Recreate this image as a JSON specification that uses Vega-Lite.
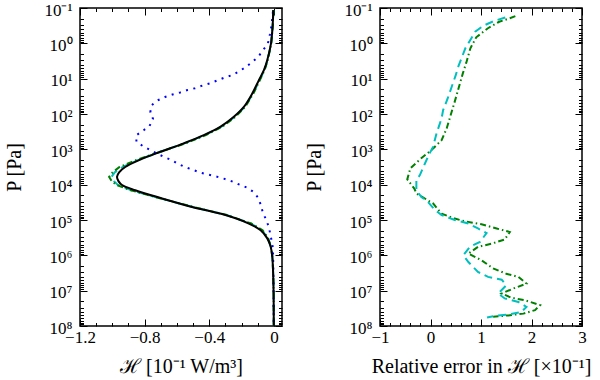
{
  "$schema": "https://vega.github.io/schema/vega-lite/v6.json",
  "padding": {"left": 4, "top": 0, "right": 0, "bottom": 0},
  "spacing": 98,
  "bounds": "flush",
  "config": {
    "view": {"stroke": "black", "strokeWidth": 1.5},
    "axis": {"grid": false, "domain": false, "tickColor": "black", "tickWidth": 1, "labelFlush": false,
      "labelFont": "Liberation Serif", "labelFontSize": 17, "labelColor": "black",
      "titleFont": "Liberation Serif", "titleFontSize": 20, "titleFontWeight": "normal", "titleColor": "black"}
  },
  "datasets": {
    "black": [
      {"P":0.115,"H":-0.004},{"P":0.3162,"H":-0.008},{"P":1,"H":-0.018},{"P":2.951,"H":-0.041},{"P":5.754,"H":-0.062},{"P":10.96,"H":-0.093},{"P":26.3,"H":-0.134},{"P":63.1,"H":-0.186},{"P":120.2,"H":-0.248},{"P":229.1,"H":-0.33},{"P":398.1,"H":-0.434},{"P":676.1,"H":-0.558},{"P":1175,"H":-0.703},{"P":1950,"H":-0.827},{"P":3162,"H":-0.92},{"P":4467,"H":-0.958},{"P":6026,"H":-0.971},{"P":7943,"H":-0.962},{"P":10230,"H":-0.94},{"P":14450,"H":-0.858},{"P":24550,"H":-0.692},{"P":42660,"H":-0.506},{"P":72440,"H":-0.3},{"P":125900,"H":-0.155},{"P":195000,"H":-0.082},{"P":331100,"H":-0.041},{"P":575400,"H":-0.02},{"P":1122000,"H":-0.01},{"P":3162000,"H":-0.005},{"P":11750000,"H":-0.002},{"P":99000000,"H":-0.001}
    ],
    "cyanL": [
      {"P":0.115,"H":-0.0034},{"P":0.3162,"H":-0.0072},{"P":1,"H":-0.0167},{"P":2.951,"H":-0.0385},{"P":5.754,"H":-0.0587},{"P":10.96,"H":-0.0886},{"P":26.3,"H":-0.129},{"P":63.1,"H":-0.181},{"P":120.2,"H":-0.242},{"P":229.1,"H":-0.325},{"P":398.1,"H":-0.429},{"P":676.1,"H":-0.554},{"P":1175,"H":-0.703},{"P":1950,"H":-0.834},{"P":3162,"H":-0.935},{"P":4467,"H":-0.985},{"P":6026,"H":-1.005},{"P":7943,"H":-0.99},{"P":10230,"H":-0.966},{"P":14450,"H":-0.882},{"P":24550,"H":-0.702},{"P":42660,"H":-0.504},{"P":72440,"H":-0.293},{"P":125900,"H":-0.143},{"P":195000,"H":-0.074},{"P":331100,"H":-0.037},{"P":575400,"H":-0.0184},{"P":1122000,"H":-0.0093},{"P":3162000,"H":-0.0045},{"P":11750000,"H":-0.0017},{"P":99000000,"H":-0.0009}
    ],
    "greenL": [
      {"P":0.115,"H":-0.0033},{"P":0.3162,"H":-0.007},{"P":1,"H":-0.0165},{"P":2.951,"H":-0.038},{"P":5.754,"H":-0.0578},{"P":10.96,"H":-0.0872},{"P":26.3,"H":-0.127},{"P":63.1,"H":-0.178},{"P":120.2,"H":-0.238},{"P":229.1,"H":-0.319},{"P":398.1,"H":-0.422},{"P":676.1,"H":-0.547},{"P":1175,"H":-0.704},{"P":1950,"H":-0.844},{"P":3162,"H":-0.955},{"P":4467,"H":-0.998},{"P":6026,"H":-1.02},{"P":7943,"H":-1.004},{"P":10230,"H":-0.973},{"P":14450,"H":-0.885},{"P":24550,"H":-0.7},{"P":42660,"H":-0.5},{"P":72440,"H":-0.291},{"P":125900,"H":-0.141},{"P":195000,"H":-0.07},{"P":331100,"H":-0.035},{"P":575400,"H":-0.0181},{"P":1122000,"H":-0.0091},{"P":3162000,"H":-0.0043},{"P":11750000,"H":-0.0017},{"P":99000000,"H":-0.0009}
    ],
    "blue": [
      {"P":0.1259,"H":-0.006},{"P":0.3162,"H":-0.015},{"P":0.5623,"H":-0.025},{"P":1,"H":-0.037},{"P":1.549,"H":-0.066},{"P":2.399,"H":-0.097},{"P":3.311,"H":-0.132},{"P":4.571,"H":-0.17},{"P":6.026,"H":-0.211},{"P":7.943,"H":-0.258},{"P":9.12,"H":-0.3},{"P":10.96,"H":-0.345},{"P":13.49,"H":-0.393},{"P":15.49,"H":-0.44},{"P":18.62,"H":-0.488},{"P":20.89,"H":-0.535},{"P":24.55,"H":-0.58},{"P":28.18,"H":-0.628},{"P":33.11,"H":-0.674},{"P":41.69,"H":-0.723},{"P":56.23,"H":-0.756},{"P":89.13,"H":-0.765},{"P":138,"H":-0.748},{"P":218.8,"H":-0.77},{"P":288.4,"H":-0.806},{"P":398.1,"H":-0.851},{"P":616.6,"H":-0.851},{"P":812.8,"H":-0.81},{"P":1047,"H":-0.766},{"P":1318,"H":-0.723},{"P":1622,"H":-0.682},{"P":2042,"H":-0.63},{"P":2630,"H":-0.589},{"P":3236,"H":-0.545},{"P":3890,"H":-0.496},{"P":4677,"H":-0.448},{"P":5248,"H":-0.403},{"P":5888,"H":-0.357},{"P":6761,"H":-0.31},{"P":7943,"H":-0.264},{"P":9772,"H":-0.217},{"P":12020,"H":-0.169},{"P":15850,"H":-0.128},{"P":22910,"H":-0.099},{"P":36310,"H":-0.082},{"P":63100,"H":-0.068},{"P":100000,"H":-0.047},{"P":162200,"H":-0.031},{"P":288400,"H":-0.02},{"P":467700,"H":-0.01},{"P":707900,"H":-0.006},{"P":3162000,"H":-0.003},{"P":31620000,"H":-0.002},{"P":99000000,"H":-0.001}
    ],
    "cyanR": [
      {"P":0.1862,"E":1.48},{"P":0.2291,"E":1.27},{"P":0.3162,"E":1.05},{"P":0.4677,"E":0.885},{"P":1,"E":0.75},{"P":1.38,"E":0.69},{"P":4.571,"E":0.55},{"P":7.943,"E":0.5},{"P":16.98,"E":0.42},{"P":36.31,"E":0.34},{"P":77.62,"E":0.25},{"P":131.8,"E":0.22},{"P":354.8,"E":0.12},{"P":851.1,"E":0.05},{"P":1622,"E":-0.05},{"P":2512,"E":-0.11},{"P":5370,"E":-0.21},{"P":7413,"E":-0.28},{"P":14450,"E":-0.28},{"P":22390,"E":-0.18},{"P":30900,"E":-0.05},{"P":52480,"E":0.09},{"P":72440,"E":0.22},{"P":100000,"E":0.48},{"P":125900,"E":0.75},{"P":173800,"E":0.94},{"P":234400,"E":1.11},{"P":416900,"E":0.98},{"P":575400,"E":0.78},{"P":1000000,"E":0.65},{"P":1549000,"E":0.75},{"P":2951000,"E":0.94},{"P":4074000,"E":1.14},{"P":4898000,"E":1.41},{"P":7079000,"E":1.5},{"P":12020000,"E":1.34},{"P":16600000,"E":1.47},{"P":20890000,"E":1.74},{"P":28840000,"E":1.9},{"P":39810000,"E":1.8},{"P":46770000,"E":1.57},{"P":50120000,"E":1.34},{"P":57540000,"E":1.12}
    ],
    "greenR": [
      {"P":0.1698,"E":1.68},{"P":0.195,"E":1.57},{"P":0.2455,"E":1.36},{"P":0.3802,"E":1.13},{"P":0.6761,"E":0.905},{"P":1.38,"E":0.79},{"P":3.467,"E":0.71},{"P":7.079,"E":0.64},{"P":19.95,"E":0.55},{"P":44.67,"E":0.48},{"P":107.2,"E":0.4},{"P":257,"E":0.32},{"P":549.5,"E":0.22},{"P":1047,"E":0.02},{"P":1820,"E":-0.19},{"P":3467,"E":-0.4},{"P":7079,"E":-0.46},{"P":12880,"E":-0.32},{"P":17780,"E":-0.28},{"P":33880,"E":0.05},{"P":66070,"E":0.22},{"P":91200,"E":0.48},{"P":112200,"E":0.72},{"P":131800,"E":1.01},{"P":173800,"E":1.31},{"P":218800,"E":1.57},{"P":354800,"E":1.47},{"P":467700,"E":1.21},{"P":575400,"E":0.94},{"P":891300,"E":0.75},{"P":1380000,"E":1.01},{"P":2344000,"E":1.24},{"P":3311000,"E":1.5},{"P":4074000,"E":1.74},{"P":6310000,"E":1.9},{"P":8710000,"E":1.64},{"P":12020000,"E":1.41},{"P":15850000,"E":1.6},{"P":18620000,"E":1.87},{"P":25700000,"E":2.17},{"P":35480000,"E":2.07},{"P":44670000,"E":1.84},{"P":50120000,"E":1.54},{"P":54950000,"E":1.24}
    ]
  },
  "hconcat": [
    {
      "width": 202, "height": 318,
      "resolve": {"axis": {"x": "independent", "y": "independent"}},
      "layer": [
        {
          "data": {"name": "cyanL"},
          "mark": {"type": "line", "color": "#00bfbf", "strokeWidth": 2, "strokeDash": [8, 5]},
          "encoding": {
            "x": {"field": "H", "type": "quantitative", "scale": {"domain": [-1.2, 0.05], "nice": false, "zero": false},
              "axis": {"orient": "bottom", "values": [-1.1,-1.0,-0.9,-0.7,-0.6,-0.5,-0.3,-0.2,-0.1], "tickSize": -3.5, "labels": false, "title": null}},
            "y": {"field": "P", "type": "quantitative", "scale": {"type": "log", "domain": [0.1, 100000000], "reverse": true, "nice": false},
              "axis": {"orient": "left", "values": [0.2,0.3,0.4,0.5,0.6,0.7,0.8,0.9,2,3,4,5,6,7,8,9,20,30,40,50,60,70,80,90,200,300,400,500,600,700,800,900,2000,3000,4000,5000,6000,7000,8000,9000,20000,30000,40000,50000,60000,70000,80000,90000,200000,300000,400000,500000,600000,700000,800000,900000,2000000,3000000,4000000,5000000,6000000,7000000,8000000,9000000,20000000,30000000,40000000,50000000,60000000,70000000,80000000,90000000], "tickSize": -3.5, "labels": false, "title": null}},
            "order": {"field": "P", "type": "quantitative"}
          }
        },
        {
          "data": {"name": "greenL"},
          "mark": {"type": "line", "color": "#008000", "strokeWidth": 2, "strokeDash": [6, 3, 1.5, 3]},
          "encoding": {
            "x": {"field": "H", "type": "quantitative", "scale": {"domain": [-1.2, 0.05], "nice": false, "zero": false},
              "axis": {"orient": "top", "values": [-1.2,-0.8,-0.4,0], "tickSize": -7, "labels": false, "title": null}},
            "y": {"field": "P", "type": "quantitative", "scale": {"type": "log", "domain": [0.1, 100000000], "reverse": true, "nice": false},
              "axis": {"orient": "right", "values": [0.1,1,10,100,1000,10000,100000,1000000,10000000,100000000], "tickSize": -7, "labels": false, "title": null}},
            "order": {"field": "P", "type": "quantitative"}
          }
        },
        {
          "data": {"name": "blue"},
          "mark": {"type": "line", "color": "#0000ff", "strokeWidth": 2, "strokeDash": [2, 5.5]},
          "encoding": {
            "x": {"field": "H", "type": "quantitative", "scale": {"domain": [-1.2, 0.05], "nice": false, "zero": false},
              "axis": {"orient": "top", "values": [-1.1,-1.0,-0.9,-0.7,-0.6,-0.5,-0.3,-0.2,-0.1], "tickSize": -3.5, "labels": false, "title": null}},
            "y": {"field": "P", "type": "quantitative", "scale": {"type": "log", "domain": [0.1, 100000000], "reverse": true, "nice": false},
              "axis": {"orient": "right", "values": [0.2,0.3,0.4,0.5,0.6,0.7,0.8,0.9,2,3,4,5,6,7,8,9,20,30,40,50,60,70,80,90,200,300,400,500,600,700,800,900,2000,3000,4000,5000,6000,7000,8000,9000,20000,30000,40000,50000,60000,70000,80000,90000,200000,300000,400000,500000,600000,700000,800000,900000,2000000,3000000,4000000,5000000,6000000,7000000,8000000,9000000,20000000,30000000,40000000,50000000,60000000,70000000,80000000,90000000], "tickSize": -3.5, "labels": false, "title": null}},
            "order": {"field": "P", "type": "quantitative"}
          }
        },
        {
          "data": {"name": "black"},
          "mark": {"type": "line", "color": "#000000", "strokeWidth": 2, "interpolate": "catmull-rom"},
          "encoding": {
            "x": {"field": "H", "type": "quantitative", "scale": {"domain": [-1.2, 0.05], "nice": false, "zero": false},
              "axis": {"orient": "bottom", "values": [-1.2,-0.8,-0.4,0], "format": "~g", "tickSize": -7, "labelPadding": 10, "title": "ℋ [10⁻¹ W/m³]", "titlePadding": 11}},
            "y": {"field": "P", "type": "quantitative", "scale": {"type": "log", "domain": [0.1, 100000000], "reverse": true, "nice": false},
              "axis": {"orient": "left", "values": [0.1,1,10,100,1000,10000,100000,1000000,10000000,100000000], "tickSize": -7, "labelPadding": 15, "labelOffset": 2,
                "labelExpr": "'10' + ['⁻¹','⁰','¹','²','³','⁴','⁵','⁶','⁷','⁸'][round(log(datum.value)/LN10) + 1]", "title": "P [Pa]", "titlePadding": 19}},
            "order": {"field": "P", "type": "quantitative"}
          }
        }
      ]
    },
    {
      "width": 202, "height": 318,
      "resolve": {"axis": {"x": "independent", "y": "independent"}},
      "layer": [
        {
          "data": {"name": "greenR"},
          "mark": {"type": "line", "color": "#008000", "strokeWidth": 2, "strokeDash": [6, 3, 1.5, 3]},
          "encoding": {
            "x": {"field": "E", "type": "quantitative", "scale": {"domain": [-1, 3], "nice": false, "zero": false},
              "axis": {"orient": "bottom", "values": [-0.8,-0.6,-0.4,-0.2,0.2,0.4,0.6,0.8,1.2,1.4,1.6,1.8,2.2,2.4,2.6,2.8], "tickSize": -3.5, "labels": false, "title": null}},
            "y": {"field": "P", "type": "quantitative", "scale": {"type": "log", "domain": [0.1, 100000000], "reverse": true, "nice": false},
              "axis": {"orient": "left", "values": [0.2,0.3,0.4,0.5,0.6,0.7,0.8,0.9,2,3,4,5,6,7,8,9,20,30,40,50,60,70,80,90,200,300,400,500,600,700,800,900,2000,3000,4000,5000,6000,7000,8000,9000,20000,30000,40000,50000,60000,70000,80000,90000,200000,300000,400000,500000,600000,700000,800000,900000,2000000,3000000,4000000,5000000,6000000,7000000,8000000,9000000,20000000,30000000,40000000,50000000,60000000,70000000,80000000,90000000], "tickSize": -3.5, "labels": false, "title": null}},
            "order": {"field": "P", "type": "quantitative"}
          }
        },
        {
          "data": {"name": "cyanR"},
          "mark": {"type": "point", "opacity": 0},
          "encoding": {
            "x": {"field": "E", "type": "quantitative", "scale": {"domain": [-1, 3], "nice": false, "zero": false},
              "axis": {"orient": "top", "values": [-1,0,1,2,3], "tickSize": -7, "labels": false, "title": null}},
            "y": {"field": "P", "type": "quantitative", "scale": {"type": "log", "domain": [0.1, 100000000], "reverse": true, "nice": false},
              "axis": {"orient": "right", "values": [0.1,1,10,100,1000,10000,100000,1000000,10000000,100000000], "tickSize": -7, "labels": false, "title": null}}
          }
        },
        {
          "data": {"name": "cyanR"},
          "mark": {"type": "point", "opacity": 0},
          "encoding": {
            "x": {"field": "E", "type": "quantitative", "scale": {"domain": [-1, 3], "nice": false, "zero": false},
              "axis": {"orient": "top", "values": [-0.8,-0.6,-0.4,-0.2,0.2,0.4,0.6,0.8,1.2,1.4,1.6,1.8,2.2,2.4,2.6,2.8], "tickSize": -3.5, "labels": false, "title": null}},
            "y": {"field": "P", "type": "quantitative", "scale": {"type": "log", "domain": [0.1, 100000000], "reverse": true, "nice": false},
              "axis": {"orient": "right", "values": [0.2,0.3,0.4,0.5,0.6,0.7,0.8,0.9,2,3,4,5,6,7,8,9,20,30,40,50,60,70,80,90,200,300,400,500,600,700,800,900,2000,3000,4000,5000,6000,7000,8000,9000,20000,30000,40000,50000,60000,70000,80000,90000,200000,300000,400000,500000,600000,700000,800000,900000,2000000,3000000,4000000,5000000,6000000,7000000,8000000,9000000,20000000,30000000,40000000,50000000,60000000,70000000,80000000,90000000], "tickSize": -3.5, "labels": false, "title": null}}
          }
        },
        {
          "data": {"name": "cyanR"},
          "mark": {"type": "line", "color": "#00bfbf", "strokeWidth": 2, "strokeDash": [8, 5]},
          "encoding": {
            "x": {"field": "E", "type": "quantitative", "scale": {"domain": [-1, 3], "nice": false, "zero": false},
              "axis": {"orient": "bottom", "values": [-1,0,1,2,3], "format": "~g", "tickSize": -7, "labelPadding": 10, "title": "Relative error in ℋ [×10⁻¹]", "titlePadding": 11}},
            "y": {"field": "P", "type": "quantitative", "scale": {"type": "log", "domain": [0.1, 100000000], "reverse": true, "nice": false},
              "axis": {"orient": "left", "values": [0.1,1,10,100,1000,10000,100000,1000000,10000000,100000000], "tickSize": -7, "labelPadding": 15, "labelOffset": 2,
                "labelExpr": "'10' + ['⁻¹','⁰','¹','²','³','⁴','⁵','⁶','⁷','⁸'][round(log(datum.value)/LN10) + 1]", "title": "P [Pa]", "titlePadding": 19}},
            "order": {"field": "P", "type": "quantitative"}
          }
        }
      ]
    }
  ]
}
